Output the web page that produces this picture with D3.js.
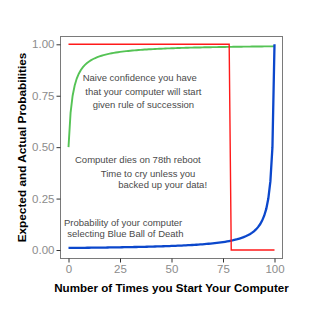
<!DOCTYPE html>
<html>
<head>
<meta charset="utf-8">
<script src="https://cdn.jsdelivr.net/npm/d3@7"></script>
<style>
  html, body { margin: 0; padding: 0; background: #fff; }
  svg { display: block; }
  text { font-family: "Liberation Sans", Arial, sans-serif; }
</style>
</head>
<body>
<svg id="chart" width="320" height="309"></svg>
<script>
// ---- data ----
const starts = [0,1,2,3,4,5,6,7,8,9,10,11,12,13,14,15,16,17,18,19,20,21,22,23,24,25,26,27,28,29,30,31,32,33,34,35,36,37,38,39,40,41,42,43,44,45,46,47,48,49,50,51,52,53,54,55,56,57,58,59,60,61,62,63,64,65,66,67,68,69,70,71,72,73,74,75,76,77,78,79,80,81,82,83,84,85,86,87,88,89,90,91,92,93,94,95,96,97,98,99,100];

const naiveConfidence = [0.5,0.6667,0.75,0.8,0.8333,0.8571,0.875,0.8889,0.9,0.9091,0.9167,0.9231,0.9286,0.9333,0.9375,0.9412,0.9444,0.9474,0.95,0.9524,0.9545,0.9565,0.9583,0.96,0.9615,0.963,0.9643,0.9655,0.9667,0.9677,0.9688,0.9697,0.9706,0.9714,0.9722,0.973,0.9737,0.9744,0.975,0.9756,0.9762,0.9767,0.9773,0.9778,0.9783,0.9787,0.9792,0.9796,0.98,0.9804,0.9808,0.9811,0.9815,0.9818,0.9821,0.9825,0.9828,0.9831,0.9833,0.9836,0.9839,0.9841,0.9844,0.9846,0.9848,0.9851,0.9853,0.9855,0.9857,0.9859,0.9861,0.9863,0.9865,0.9867,0.9868,0.987,0.9872,0.9873,0.9875,0.9877,0.9878,0.988,0.9881,0.9882,0.9884,0.9885,0.9886,0.9888,0.9889,0.989,0.9891,0.9892,0.9894,0.9895,0.9896,0.9897,0.9898,0.9899,0.99,0.9901,0.9902];

const blueBall = [0.0099,0.01,0.0101,0.0102,0.0103,0.0104,0.0105,0.0106,0.0108,0.0109,0.011,0.0111,0.0112,0.0114,0.0115,0.0116,0.0118,0.0119,0.012,0.0122,0.0123,0.0125,0.0127,0.0128,0.013,0.0132,0.0133,0.0135,0.0137,0.0139,0.0141,0.0143,0.0145,0.0147,0.0149,0.0152,0.0154,0.0156,0.0159,0.0161,0.0164,0.0167,0.0169,0.0172,0.0175,0.0179,0.0182,0.0185,0.0189,0.0192,0.0196,0.02,0.0204,0.0208,0.0213,0.0217,0.0222,0.0227,0.0233,0.0238,0.0244,0.025,0.0256,0.0263,0.027,0.0278,0.0286,0.0294,0.0303,0.0313,0.0323,0.0333,0.0345,0.0357,0.037,0.0385,0.04,0.0417,0.0435,0.0455,0.0476,0.05,0.0526,0.0556,0.0588,0.0625,0.0667,0.0714,0.0769,0.0833,0.0909,0.1,0.1111,0.125,0.1429,0.1667,0.2,0.25,0.3333,0.5,1];

const actualX = [0, 78, 79, 100];
const actualY = [1, 1, 0, 0];

const xTicks = [0, 25, 50, 75, 100];
const yTicks = [0, 0.25, 0.5, 0.75, 1];

const xTitle = "Number of Times you Start Your Computer";
const yTitle = "Expected and Actual Probabilities";

const notes = [
  {text: "Naive confidence you have",     x: 82.7,  y: 81},
  {text: "that your computer will start", x: 85.3,  y: 95},
  {text: "given rule of succession",      x: 92.7,  y: 107.5},
  {text: "Computer dies on 78th reboot",  x: 75,    y: 163.3},
  {text: "Time to cry unless you",        x: 100.7, y: 176.5},
  {text: "backed up your data!",          x: 118.3, y: 188.3},
  {text: "Probability of your computer",  x: 64,    y: 226},
  {text: "selecting Blue Ball of Death",  x: 67.3,  y: 236.5}
];

// ---- layout ----
const svg = d3.select("#chart");
const panel = {left: 60.5, right: 282.5, top: 36.5, bottom: 258.5};

const x = d3.scaleLinear().domain([0, 100]).range([68.5, 274.5]);
const y = d3.scaleLinear().domain([0, 1]).range([250, 44.3]);

// panel border
svg.append("rect")
  .attr("x", panel.left).attr("y", panel.top)
  .attr("width", panel.right - panel.left)
  .attr("height", panel.bottom - panel.top)
  .attr("fill", "none").attr("stroke", "#7a7a7a").attr("stroke-width", 1);

// axes
const xAxis = svg.append("g")
  .attr("transform", `translate(0,${panel.bottom})`)
  .call(d3.axisBottom(x).tickValues(xTicks).tickSize(4).tickPadding(2).tickFormat(d3.format("d")));
const yAxis = svg.append("g")
  .attr("transform", `translate(${panel.left},0)`)
  .call(d3.axisLeft(y).tickValues(yTicks).tickSize(4).tickPadding(2).tickFormat(d3.format(".2f")));

[xAxis, yAxis].forEach(g => {
  g.select(".domain").remove();
  g.selectAll(".tick line").attr("stroke", "#333");
  g.selectAll(".tick text")
    .attr("fill", "#8c8c8c")
    .style("font-size", "11.5px")
    .style("font-family", "'Liberation Sans', Arial, sans-serif");
});

// lines
const line = d3.line().x(d => x(d[0])).y(d => y(d[1]));

svg.append("path")
  .datum(starts.map((s, i) => [s, naiveConfidence[i]]))
  .attr("d", line).attr("fill", "none")
  .attr("stroke", "#55c355").attr("stroke-width", 1.9);

svg.append("path")
  .datum(starts.map((s, i) => [s, blueBall[i]]))
  .attr("d", line).attr("fill", "none")
  .attr("stroke", "#0b47cc").attr("stroke-width", 2.3);

svg.append("path")
  .datum(actualX.map((s, i) => [s, actualY[i]]))
  .attr("d", line).attr("fill", "none")
  .attr("stroke", "#ff1a1a").attr("stroke-width", 1.4);

// annotations
svg.append("g").selectAll("text").data(notes).join("text")
  .attr("x", d => d.x).attr("y", d => d.y)
  .attr("fill", "#4a4a4a")
  .style("font-size", "9.5px")
  .text(d => d.text);

// axis titles
svg.append("text")
  .attr("x", (panel.left + panel.right) / 2).attr("y", 291.5)
  .attr("text-anchor", "middle")
  .style("font-size", "11.6px").style("font-weight", "bold")
  .attr("fill", "#000")
  .text(xTitle);

svg.append("text")
  .attr("transform", `translate(26,${(panel.top + panel.bottom) / 2}) rotate(-90)`)
  .attr("text-anchor", "middle")
  .style("font-size", "11.8px").style("font-weight", "bold")
  .attr("fill", "#000")
  .text(yTitle);
</script>
</body>
</html>
